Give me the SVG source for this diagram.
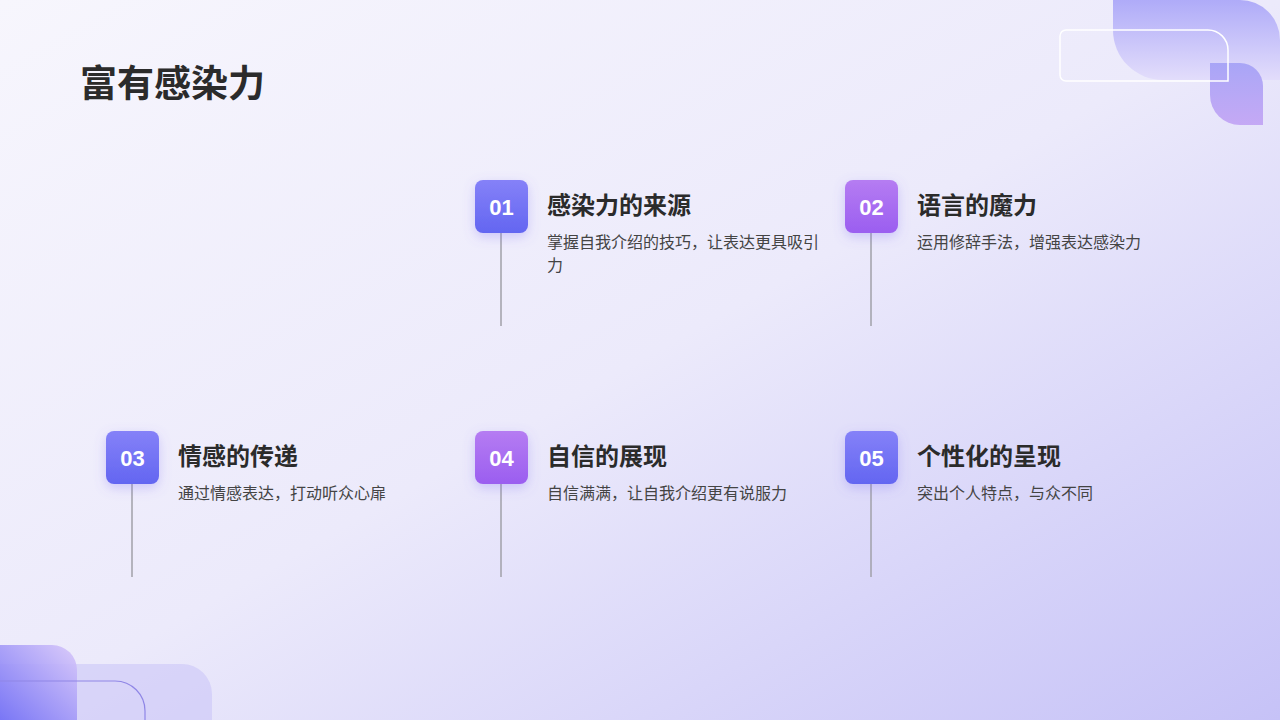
<svg xmlns="http://www.w3.org/2000/svg" width="1280" height="720" viewBox="0 0 1280 720">
<defs>
<linearGradient id="bg" x1="0" y1="0" x2="1" y2="1"><stop offset="0" stop-color="#f7f6fd"/><stop offset="0.5" stop-color="#eceafb"/><stop offset="1" stop-color="#c6c2f7"/></linearGradient>
<linearGradient id="blue" x1="0" y1="0" x2="0" y2="1"><stop offset="0" stop-color="#8581f8"/><stop offset="1" stop-color="#6366f1"/></linearGradient>
<linearGradient id="purple" x1="0" y1="0" x2="0" y2="1"><stop offset="0" stop-color="#b57cf2"/><stop offset="1" stop-color="#9b5ef0"/></linearGradient>
<linearGradient id="tr" x1="0" y1="0" x2="0" y2="1"><stop offset="0" stop-color="#a8a4f8"/><stop offset="1" stop-color="#e2dcfb"/></linearGradient>
<linearGradient id="tr2" x1="0" y1="0" x2="0" y2="1"><stop offset="0" stop-color="#a3a0f6"/><stop offset="1" stop-color="#c1a2f4"/></linearGradient>
<linearGradient id="bl" x1="1" y1="0" x2="0" y2="1"><stop offset="0" stop-color="#d9c8fa"/><stop offset="1" stop-color="#6f6cf5"/></linearGradient>
<filter id="sh" x="-50%" y="-50%" width="200%" height="200%"><feDropShadow dx="0" dy="4" stdDeviation="6" flood-color="#7b6cf3" flood-opacity="0.3"/></filter>
</defs>
<style>
.t{font-family:"Liberation Sans","Noto Sans CJK SC",sans-serif;}
.h{font-size:24px;font-weight:bold;fill:#2b2b2b}
.d{font-size:16px;fill:#444}
.n{font-size:22px;font-weight:bold;fill:#fff}
.ln{stroke:#a0a0a8;stroke-width:1.5}
</style>
<rect width="1280" height="720" fill="url(#bg)"/>
<path d="M1113 0 H1240 A40 40 0 0 1 1280 40 V80 H1163 A50 50 0 0 1 1113 30 Z" fill="url(#tr)" opacity="0.9"/>
<path d="M1210 63 H1240 A23 23 0 0 1 1263 86 V125 H1240 A30 30 0 0 1 1210 95 Z" fill="url(#tr2)" opacity="0.9"/>
<path d="M1066 30 H1208 A20 20 0 0 1 1228 50 V81 H1066 A6 6 0 0 1 1060 75 V36 A6 6 0 0 1 1066 30 Z" fill="none" stroke="#fff" stroke-width="1.5"/>
<path d="M0 664 H182 A30 30 0 0 1 212 694 V720 H0 Z" fill="#c9c2f8" opacity="0.55"/>
<path d="M0 645 H52 A25 25 0 0 1 77 670 V720 H0 Z" fill="url(#bl)" opacity="0.9"/>
<path d="M0 681 H115 A30 30 0 0 1 145 711 V720" fill="none" stroke="#8f86e6" stroke-width="1.2"/>
<text class="t" x="80" y="97" font-size="37" font-weight="bold" fill="#2b2b2b">富有感染力</text>
<g id="connectors">
<line class="ln" x1="501" y1="233" x2="501" y2="326"/>
<line class="ln" x1="871" y1="233" x2="871" y2="326"/>
<line class="ln" x1="132" y1="484" x2="132" y2="577"/>
<line class="ln" x1="501" y1="484" x2="501" y2="577"/>
<line class="ln" x1="871" y1="484" x2="871" y2="577"/>
</g>
<g id="n1"><rect x="475" y="180" width="53" height="53" rx="8" fill="url(#blue)" filter="url(#sh)"/><text class="t n" x="501.5" y="215" text-anchor="middle">01</text>
<text class="t h" x="547" y="214">感染力的来源</text><text class="t d" x="547" y="248">掌握自我介绍的技巧，让表达更具吸引</text><text class="t d" x="547" y="271">力</text></g>
<g id="n2"><rect x="845" y="180" width="53" height="53" rx="8" fill="url(#purple)" filter="url(#sh)"/><text class="t n" x="871.5" y="215" text-anchor="middle">02</text>
<text class="t h" x="917" y="214">语言的魔力</text><text class="t d" x="917" y="248">运用修辞手法，增强表达感染力</text></g>
<g id="n3"><rect x="106" y="431" width="53" height="53" rx="8" fill="url(#blue)" filter="url(#sh)"/><text class="t n" x="132.5" y="466" text-anchor="middle">03</text>
<text class="t h" x="178" y="465">情感的传递</text><text class="t d" x="178" y="499">通过情感表达，打动听众心扉</text></g>
<g id="n4"><rect x="475" y="431" width="53" height="53" rx="8" fill="url(#purple)" filter="url(#sh)"/><text class="t n" x="501.5" y="466" text-anchor="middle">04</text>
<text class="t h" x="547" y="465">自信的展现</text><text class="t d" x="547" y="499">自信满满，让自我介绍更有说服力</text></g>
<g id="n5"><rect x="845" y="431" width="53" height="53" rx="8" fill="url(#blue)" filter="url(#sh)"/><text class="t n" x="871.5" y="466" text-anchor="middle">05</text>
<text class="t h" x="917" y="465">个性化的呈现</text><text class="t d" x="917" y="499">突出个人特点，与众不同</text></g>
</svg>
